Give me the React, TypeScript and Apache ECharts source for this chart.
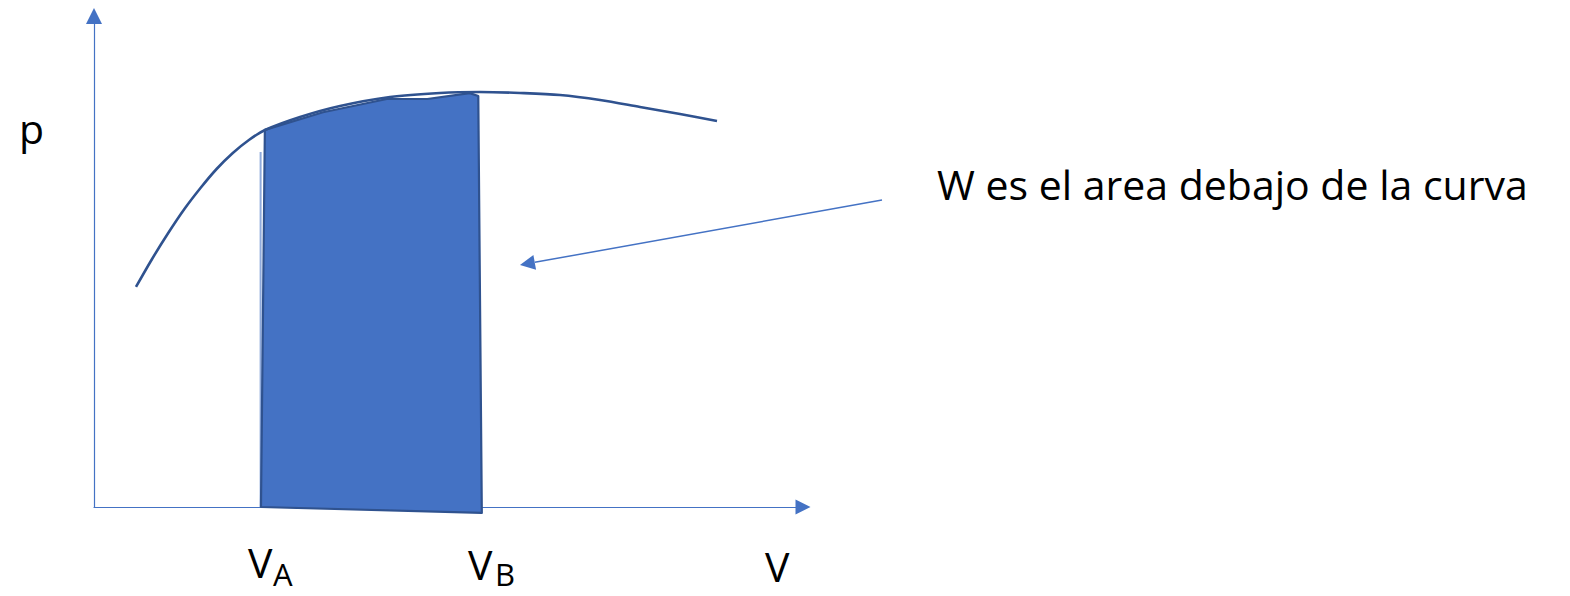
import React, { useEffect, useRef } from "react";
import * as echarts from "echarts";

// p–V curve (volume, pressure) in arbitrary units
const curveV = [5.92, 8.19, 10.47, 12.75, 15.02, 17.29, 19.58, 21.85, 24.12, 29.06, 34.7, 41.75, 48.8, 54.44, 60.08, 65.73, 71.37, 77.01, 82.65, 87.87];
const curveP = [44.81, 50.51, 55.8, 60.69, 64.97, 68.84, 72.1, 74.75, 76.78, 79.43, 81.67, 83.5, 84.32, 84.52, 84.32, 83.91, 82.89, 81.47, 80.04, 78.62];

// shaded work region between VA and VB
const workV = [23.55, 24.1, 32.3, 41.3, 47.0, 53.0, 54.2, 54.7];
const workP = [0, 76.8, 80.4, 83.1, 83.1, 84.3, 83.7, -1.2];

// faint guide at VA
const guideV = [23.5, 23.5];
const guideP = [72.3, 0];

// annotation arrow: tail, tip
const arrowV = [111.14, 60.08];
const arrowP = [62.53, 49.29];

const labelP = "p";
const labelV = "V";
const subA = "A";
const subB = "B";
const note = "W es el area debajo de la curva";

const FONT = '"Open Sans", "Noto Sans", sans-serif';

export default function App() {
  const ref = useRef<HTMLDivElement>(null);

  useEffect(() => {
    if (!ref.current) return;
    const chart = echarts.init(ref.current, null, { renderer: "svg" });

    const curveData = curveV.map((v, i) => [v, curveP[i]]);
    const workData = workV.map((v, i) => [v, workP[i]]);
    const guideData = guideV.map((v, i) => [v, guideP[i]]);

    const txt = (text: string, x: number, y: number, size: number) => ({
      type: "text",
      x,
      y,
      silent: true,
      style: {
        text,
        fill: "#000000",
        fontSize: size,
        fontFamily: FONT,
        lineHeight: size,
        align: "left",
        verticalAlign: "middle",
      },
    });

    chart.setOption({
      animation: false,
      backgroundColor: "#ffffff",
      grid: { left: 94, right: 767, top: 16, bottom: 89, containLabel: false },
      xAxis: {
        type: "value",
        min: 0,
        max: 100,
        axisLine: {
          show: true,
          onZero: false,
          symbol: ["none", "triangle"],
          symbolSize: [15, 15],
          lineStyle: { color: "#4472C4", width: 1.2 },
        },
        axisTick: { show: false },
        axisLabel: { show: false },
        splitLine: { show: false },
      },
      yAxis: {
        type: "value",
        min: 0,
        max: 100,
        axisLine: {
          show: true,
          onZero: false,
          symbol: ["none", "triangle"],
          symbolSize: [16, 16],
          lineStyle: { color: "#4472C4", width: 1.2 },
        },
        axisTick: { show: false },
        axisLabel: { show: false },
        splitLine: { show: false },
      },
      series: [
        {
          type: "line",
          data: guideData,
          showSymbol: false,
          clip: false,
          silent: true,
          z: 1,
          lineStyle: { color: "#8FAADC", width: 2 },
        },
        {
          type: "custom",
          clip: false,
          silent: true,
          z: 2,
          data: [0],
          renderItem: (params: any, api: any) => {
            if (params.dataIndex !== 0) return null;
            const pts = workData.map((d) => api.coord(d));
            return {
              type: "polygon",
              shape: { points: pts },
              style: { fill: "#4472C4", stroke: "#2F528F", lineWidth: 2.2, lineJoin: "round" },
            };
          },
        },
        {
          type: "line",
          data: curveData,
          smooth: 0.3,
          showSymbol: false,
          clip: false,
          silent: true,
          z: 3,
          lineStyle: { color: "#2F528F", width: 2.6 },
        },
        {
          type: "custom",
          clip: false,
          silent: true,
          z: 4,
          data: [0],
          renderItem: (params: any, api: any) => {
            if (params.dataIndex !== 0) return null;
            const a = api.coord([arrowV[0], arrowP[0]]);
            const b = api.coord([arrowV[1], arrowP[1]]);
            const dx = b[0] - a[0];
            const dy = b[1] - a[1];
            const len = Math.sqrt(dx * dx + dy * dy);
            const ux = dx / len;
            const uy = dy / len;
            const headLen = 15;
            const headHalf = 7.5;
            const base = [b[0] - ux * headLen, b[1] - uy * headLen];
            return {
              type: "group",
              children: [
                {
                  type: "line",
                  shape: { x1: a[0], y1: a[1], x2: base[0], y2: base[1] },
                  style: { stroke: "#4472C4", lineWidth: 1.5 },
                },
                {
                  type: "polygon",
                  shape: {
                    points: [
                      b,
                      [base[0] - uy * headHalf, base[1] + ux * headHalf],
                      [base[0] + uy * headHalf, base[1] - ux * headHalf],
                    ],
                  },
                  style: { fill: "#4472C4" },
                },
              ],
            };
          },
        },
      ],
      graphic: [
        txt(labelP, 19, 128, 41),
        txt(note, 937, 184, 41),
        txt(labelV, 248, 562, 41),
        txt(subA, 273, 574, 31),
        txt(labelV, 468, 564, 41),
        txt(subB, 495, 574, 31),
        txt(labelV, 765, 566, 41),
      ],
    });

    return () => chart.dispose();
  }, []);

  return (
    <div
      ref={ref}
      style={{ position: "fixed", left: 0, top: 0, width: "1570px", height: "596px" }}
    />
  );
}
